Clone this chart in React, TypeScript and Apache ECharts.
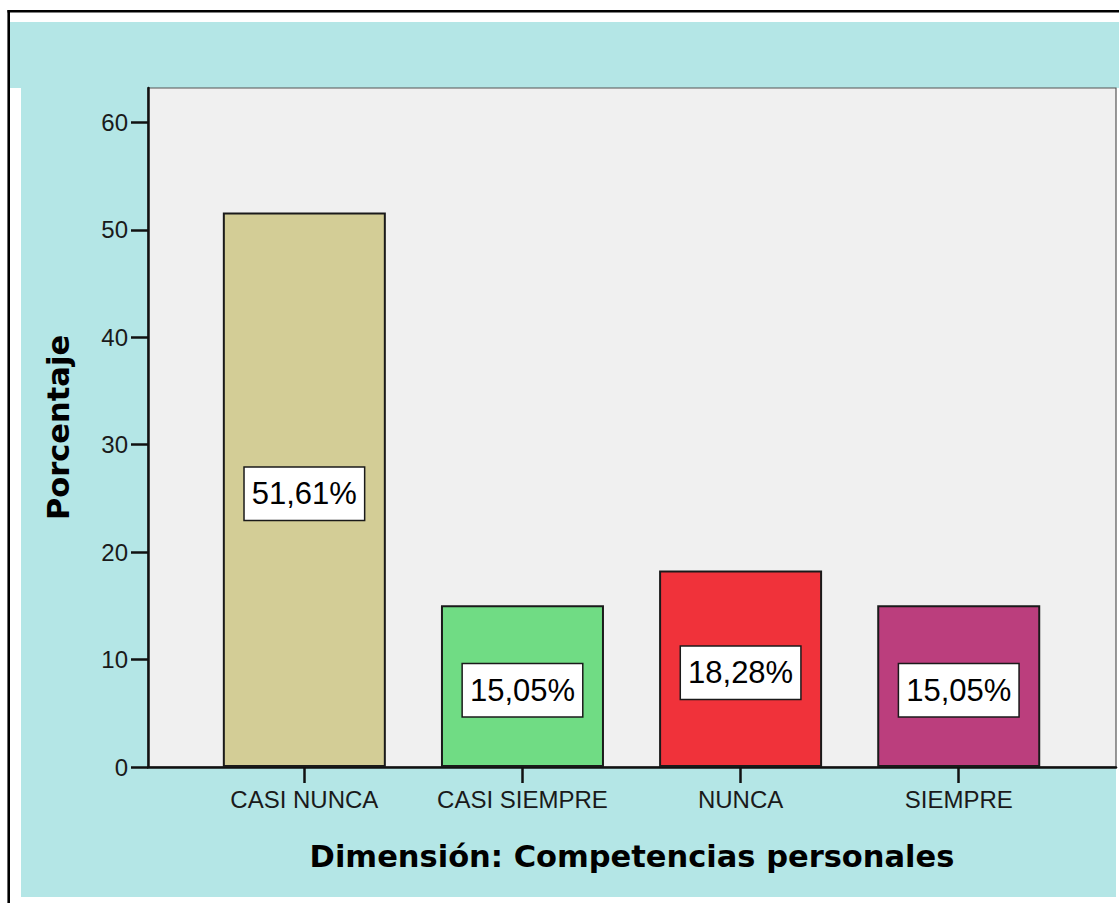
import React, { useEffect, useRef } from "react";
import * as echarts from "echarts";

const categories = ["CASI NUNCA", "CASI SIEMPRE", "NUNCA", "SIEMPRE"];
const percentages = [51.61, 15.05, 18.28, 15.05];
const barColors = ["#d3cd96", "#70dc84", "#f0323a", "#bb3e7d"];
const yTicks = [0, 10, 20, 30, 40, 50, 60];
const categoryPositions = [0, 1, 2, 3];

const CYAN = "#b4e6e6";

export default function App() {
  const ref = useRef<HTMLDivElement>(null);

  useEffect(() => {
    if (!ref.current) return;
    const chart = echarts.init(ref.current, null, { renderer: "svg" });
    const option = {
      animation: false,
      backgroundColor: "#ffffff",
      graphic: [
        { type: "rect", z: -10, silent: true, shape: { x: 10, y: 22, width: 1109, height: 66 }, style: { fill: CYAN } },
        { type: "rect", z: -10, silent: true, shape: { x: 21, y: 88, width: 1095, height: 809 }, style: { fill: CYAN } },
        { type: "line", z: -9, silent: true, shape: { x1: 8.7, y1: 10, x2: 8.7, y2: 903 }, style: { stroke: "#000", lineWidth: 2.6 } },
        { type: "line", z: -9, silent: true, shape: { x1: 7.5, y1: 11.3, x2: 1119, y2: 11.3 }, style: { stroke: "#000", lineWidth: 2.6 } },
      ],
      grid: {
        left: 148,
        top: 88,
        right: 3,
        bottom: 136,
        show: true,
        backgroundColor: "#f0f0f0",
        borderColor: "#555",
        borderWidth: 1.2,
      },
      xAxis: {
        type: "value",
        min: -0.7167,
        max: 3.721,
        name: "Dimensión: Competencias personales",
        nameLocation: "middle",
        nameGap: 74,
        nameTextStyle: {
          fontFamily: "DejaVu Sans",
          fontWeight: "bold",
          fontSize: 30.5,
          color: "#000",
        },
        axisLine: { show: true, onZero: false, lineStyle: { color: "#111", width: 2.5 } },
        axisTick: {
          show: true,
          customValues: categoryPositions,
          length: 16,
          lineStyle: { color: "#111", width: 2.5 },
        },
        axisLabel: {
          customValues: categoryPositions,
          formatter: (v: number) => categories[Math.round(v)] ?? "",
          margin: 20,
          fontFamily: "Liberation Sans",
          fontSize: 24,
          color: "#1a1a1a",
        },
        splitLine: { show: false },
      },
      yAxis: {
        type: "value",
        min: 0,
        max: 63.2,
        name: "Porcentaje",
        nameLocation: "middle",
        nameGap: 74,
        nameTextStyle: {
          fontFamily: "DejaVu Sans",
          fontWeight: "bold",
          fontSize: 30.5,
          color: "#000",
        },
        axisLine: { show: true, onZero: false, lineStyle: { color: "#111", width: 2.5 } },
        axisTick: {
          show: true,
          customValues: yTicks,
          length: 17,
          lineStyle: { color: "#111", width: 2.5 },
        },
        axisLabel: {
          customValues: yTicks,
          margin: 20,
          fontFamily: "Liberation Sans",
          fontSize: 24,
          color: "#1a1a1a",
        },
        splitLine: { show: false },
      },
      series: [
        {
          type: "bar",
          barWidth: 163,
          data: percentages.map((v, i) => ({
            value: [categoryPositions[i], v],
            itemStyle: { color: barColors[i] },
          })),
          itemStyle: { borderColor: "#1a1a1a", borderWidth: 2 },
          label: {
            show: true,
            position: "inside",
            offset: [0, 4],
            formatter: (p: any) => p.value[1].toFixed(2).replace(".", ",") + "%",
            fontFamily: "Liberation Sans",
            fontSize: 31,
            lineHeight: 36,
            color: "#000",
            backgroundColor: "#ffffff",
            borderColor: "#1a1a1a",
            borderWidth: 1.5,
            padding: [8, 7],
          },
        },
      ],
    };
    chart.setOption(option as any);
    return () => chart.dispose();
  }, []);

  return (
    <div
      ref={ref}
      style={{ position: "fixed", left: 0, top: 0, width: 1119, height: 903 }}
    />
  );
}
